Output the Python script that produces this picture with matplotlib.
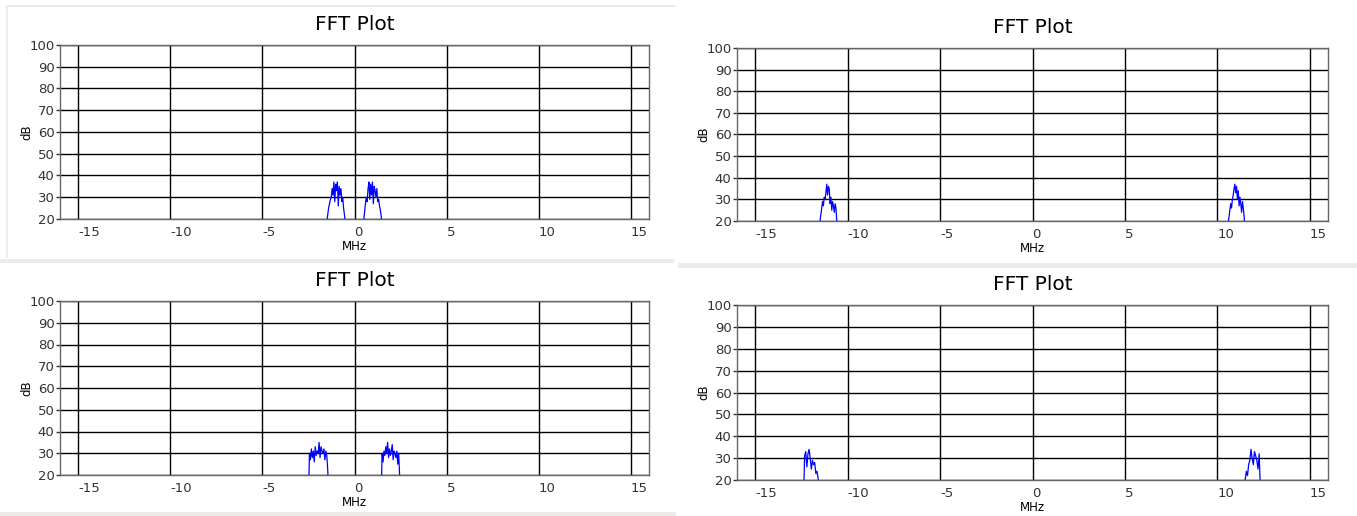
import numpy as np
import matplotlib
matplotlib.use('Agg')
import matplotlib.pyplot as plt
import matplotlib.patches as patches

plt.rcParams['axes.unicode_minus'] = False

# === 数据 (从截图读取) ===
X_TICKS = [-15, -10, -5, 0, 5, 10, 15]
Y_TICKS = [20, 30, 40, 50, 60, 70, 80, 90, 100]

# 左上
tl_f1 = (-1.55, -0.45)
tl_db1 = [12, 19, 22, 25, 27, 29, 30, 34, 31, 37, 28, 36, 33, 37, 26, 35, 31, 34, 28, 30, 25, 22, 18, 12]
tl_f2 = (0.45, 1.55)
tl_db2 = [12, 19, 23, 27, 30, 28, 34, 37, 29, 36, 31, 37, 27, 35, 33, 30, 34, 28, 29, 26, 24, 21, 17, 12]

# 右上
tr_f1 = (-11.55, -10.55)
tr_db1 = [10, 20, 23, 26, 29, 27, 31, 30, 33, 37, 32, 36, 35, 28, 31, 25, 29, 27, 24, 28, 26, 20, 12]
tr_f2 = (10.55, 11.55)
tr_db2 = [10, 19, 22, 25, 28, 26, 30, 32, 35, 37, 33, 36, 30, 34, 27, 31, 28, 24, 29, 26, 22, 16, 10]

# 左下
bl_f1 = (-2.5, -1.4)
bl_db1 = [10, 30, 27, 32, 28, 31, 26, 33, 29, 31, 30, 35, 28, 33, 31, 30, 32, 27, 31, 29, 22, 12]
bl_f2 = (1.45, 2.5)
bl_db2 = [10, 30, 26, 31, 29, 33, 30, 35, 28, 32, 29, 31, 34, 27, 31, 30, 28, 31, 25, 30, 20, 12]

# 右下
br_f1 = (-12.4, -11.55)
br_db1 = [10, 31, 33, 26, 32, 34, 30, 25, 29, 27, 28, 23, 24, 21, 15]
br_f2 = (11.45, 12.4)
br_db2 = [10, 20, 24, 22, 27, 29, 34, 30, 27, 33, 31, 29, 25, 32, 16, 10]

PANELS = [
    # 像素框 (x0, y0, x1, y1), 信号
    ((60, 45, 649, 219), [(tl_f1, tl_db1), (tl_f2, tl_db2)]),
    ((737, 48, 1328, 221), [(tr_f1, tr_db1), (tr_f2, tr_db2)]),
    ((60, 301, 649, 475), [(bl_f1, bl_db1), (bl_f2, bl_db2)]),
    ((737, 305, 1328, 480), [(br_f1, br_db1), (br_f2, br_db2)]),
]

W, H = 1357, 516
fig = plt.figure(figsize=(W / 100, H / 100), dpi=100)
fig.patch.set_facecolor('white')

# 面板分隔条
SEP = '#eeece8'
for (x0, y0, w, h) in [(6, 5, 670, 2), (6, 5, 2, 253), (0, 259, 674, 4),
                       (678, 263, 679, 5), (0, 512, 676, 4)]:
    fig.add_artist(patches.Rectangle((x0 / W, 1 - (y0 + h) / H), w / W, h / H,
                                     transform=fig.transFigure, facecolor=SEP,
                                     edgecolor='none'))

for (x0, y0, x1, y1), bumps in PANELS:
    ax = fig.add_axes([x0 / W, 1 - y1 / H, (x1 - x0) / W, (y1 - y0) / H])
    ax.set_xlim(-16, 16)
    ax.set_ylim(20, 100)
    ax.set_xticks(X_TICKS)
    ax.set_yticks(Y_TICKS)
    ax.grid(True, color='black', linewidth=1.0)
    ax.set_axisbelow(True)
    for s in ax.spines.values():
        s.set_color('#666666')
        s.set_linewidth(1.0)
    ax.tick_params(axis='y', length=3, width=1, color='#333333', labelsize=9.5,
                   labelcolor='#333333', pad=1)
    ax.tick_params(axis='x', length=0, labelsize=9.5, labelcolor='#333333', pad=5)
    for lbl in ax.get_xticklabels():
        lbl.set_horizontalalignment('left')

    for (fa, fb), db in bumps:
        f = np.linspace(fa, fb, len(db))
        ax.plot(f, db, color='#0000ff', linewidth=0.9)

    ax.set_title('FFT Plot', fontsize=14.5, pad=11)
    ax.set_xlabel('MHz', fontsize=8.5, labelpad=1)
    ax.set_ylabel('dB', fontsize=8.5, labelpad=-3)

fig.savefig('out.png', dpi=100, facecolor='white')
